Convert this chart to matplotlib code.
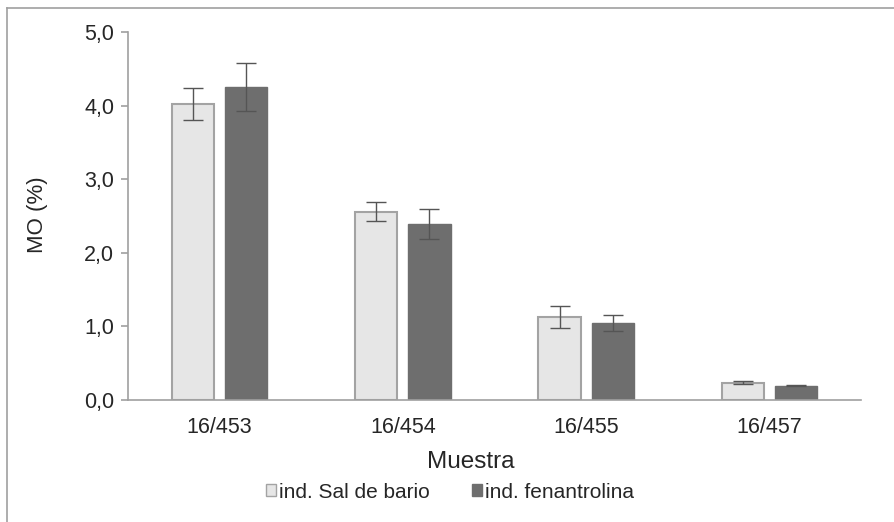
import matplotlib
matplotlib.use("Agg")
import matplotlib.pyplot as plt
from matplotlib.lines import Line2D
from matplotlib.patches import Patch
import numpy as np

plt.rcParams['font.family'] = ['Liberation Sans', 'DejaVu Sans']

categories = ["16/453", "16/454", "16/455", "16/457"]
series_names = ["ind. Sal de bario", "ind. fenantrolina"]
sal_bario = [4.02, 2.56, 1.13, 0.235]
sal_bario_err = [0.22, 0.13, 0.15, 0.02]
fenantrolina = [4.25, 2.39, 1.05, 0.195]
fenantrolina_err = [0.33, 0.20, 0.11, 0.01]
yticks = [0.0, 1.0, 2.0, 3.0, 4.0, 5.0]

text_col = "#262626"
fig = plt.figure(figsize=(8.94, 5.22), dpi=100)
ax = fig.add_axes([128/894, 1 - 400/522, 733/894, 368/522])

x = np.arange(len(categories))
w = 0.23
off = 0.145
ax.bar(x - off, sal_bario, w, color="#e6e6e6", edgecolor="#a3a3a3", linewidth=1.5,
       yerr=sal_bario_err, error_kw=dict(ecolor="#555555", elinewidth=1.0, capsize=7, capthick=1.0),
       label=series_names[0], zorder=2)
ax.bar(x + off, fenantrolina, w, color="#6e6e6e", edgecolor="#6e6e6e", linewidth=1.0,
       yerr=fenantrolina_err, error_kw=dict(ecolor="#555555", elinewidth=1.0, capsize=7, capthick=1.0),
       label=series_names[1], zorder=2)

ax.set_xlim(-0.5, len(categories) - 0.5)
ax.set_ylim(0, 5.0)
ax.set_yticks(yticks)
ax.set_yticklabels([f"{v:.1f}".replace(".", ",") for v in yticks])
ax.set_xticks(x)
ax.set_xticklabels(categories)
for s in ["top", "right"]:
    ax.spines[s].set_visible(False)
for s in ["left", "bottom"]:
    ax.spines[s].set_color("#a0a0a0")
    ax.spines[s].set_linewidth(1.2)
ax.tick_params(axis="y", colors="#a0a0a0", length=5, width=1.2, labelcolor=text_col, labelsize=15.5, pad=5)
ax.tick_params(axis="x", length=0, labelcolor=text_col, labelsize=15.5, pad=12)
ax.set_ylabel("MO (%)", fontsize=16, color=text_col, va="center")
ax.yaxis.set_label_coords((37 - 128) / 733, (400 - 215) / 368)
ax.set_xlabel("Muestra", fontsize=17.5, color=text_col, va="center")
ax.xaxis.set_label_coords((471 - 128) / 733, (400 - 462) / 368)

handles = [Patch(facecolor="#e6e6e6", edgecolor="#a3a3a3", linewidth=1.0),
           Patch(facecolor="#6e6e6e", edgecolor="#6e6e6e", linewidth=1.0)]
leg = fig.legend(handles, series_names, loc="center", bbox_to_anchor=(450/894, 1 - 492/522),
                 ncol=2, frameon=False, fontsize=15, handlelength=0.5, handleheight=0.5,
                 handletextpad=0.15, columnspacing=2.0, labelcolor=text_col)

# outer frame (left and top edges)
fig.add_artist(Line2D([7/894, 7/894], [0, 1 - 8/522], transform=fig.transFigure, color="#a0a0a0", lw=1.2))
fig.add_artist(Line2D([7/894, 1], [1 - 8/522, 1 - 8/522], transform=fig.transFigure, color="#a0a0a0", lw=1.2))

fig.savefig("out.png", dpi=100)
